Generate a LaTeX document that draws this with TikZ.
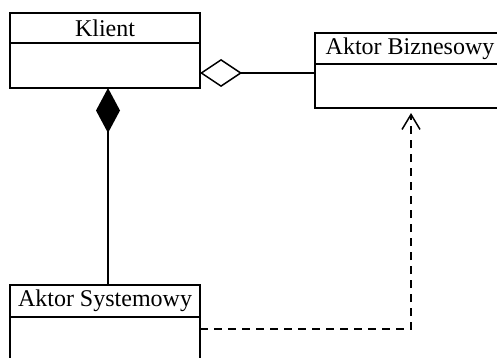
\documentclass[tikz,border=0pt]{standalone}
\usepackage{fontspec}
\setmainfont{Liberation Serif}
\usetikzlibrary{arrows.meta}
\begin{document}
\begin{tikzpicture}[x=1pt,y=-1pt,
  classpart/.style={draw=black, line width=2pt, fill=white, inner sep=0pt, outer sep=0pt, anchor=north west,
     minimum width=190pt, font=\fontsize{24}{28}\selectfont},
  conn/.style={draw=black, line width=1.5pt},
  agg/.style={conn, {Diamond[open, length=42pt, width=28pt, line width=1.5pt]}-},
  comp/.style={conn, {Diamond[fill=black, length=45pt, width=24pt]}-},
  dep/.style={conn, dash pattern=on 8pt off 6pt, -{Straight Barb[length=15pt, width=18pt, line width=1.5pt]}}]
\useasboundingbox (0,0) rectangle (497,358);
\clip (0,0) rectangle (497,358);
% Klient
\node[classpart, minimum height=30pt] (klientH) at (10,13) {Klient};
\node[classpart, minimum height=45pt] (klientB) at (klientH.south west) {};
% Aktor Biznesowy
\node[classpart, minimum height=31pt] (bizH) at (315,33) {Aktor Biznesowy};
\node[classpart, minimum height=44pt] (bizB) at (bizH.south west) {};
% Aktor Systemowy
\node[classpart, minimum height=32pt] (sysH) at (10,285) {Aktor Systemowy};
\node[classpart, minimum height=60pt] (sysB) at (sysH.south west) {};
% helper coordinates
\coordinate (aggy) at (0,73);
\coordinate (compx) at (108,0);
\coordinate (depy) at (0,329);
\coordinate (deptip) at (411,113);
% connectors
\draw[agg] (klientB.east |- aggy) -- (bizB.west |- aggy);
\draw[comp] (klientB.south -| compx) -- (sysH.north -| compx);
\draw[dep] (sysB.east |- depy) -| (deptip);
\end{tikzpicture}
\end{document}
